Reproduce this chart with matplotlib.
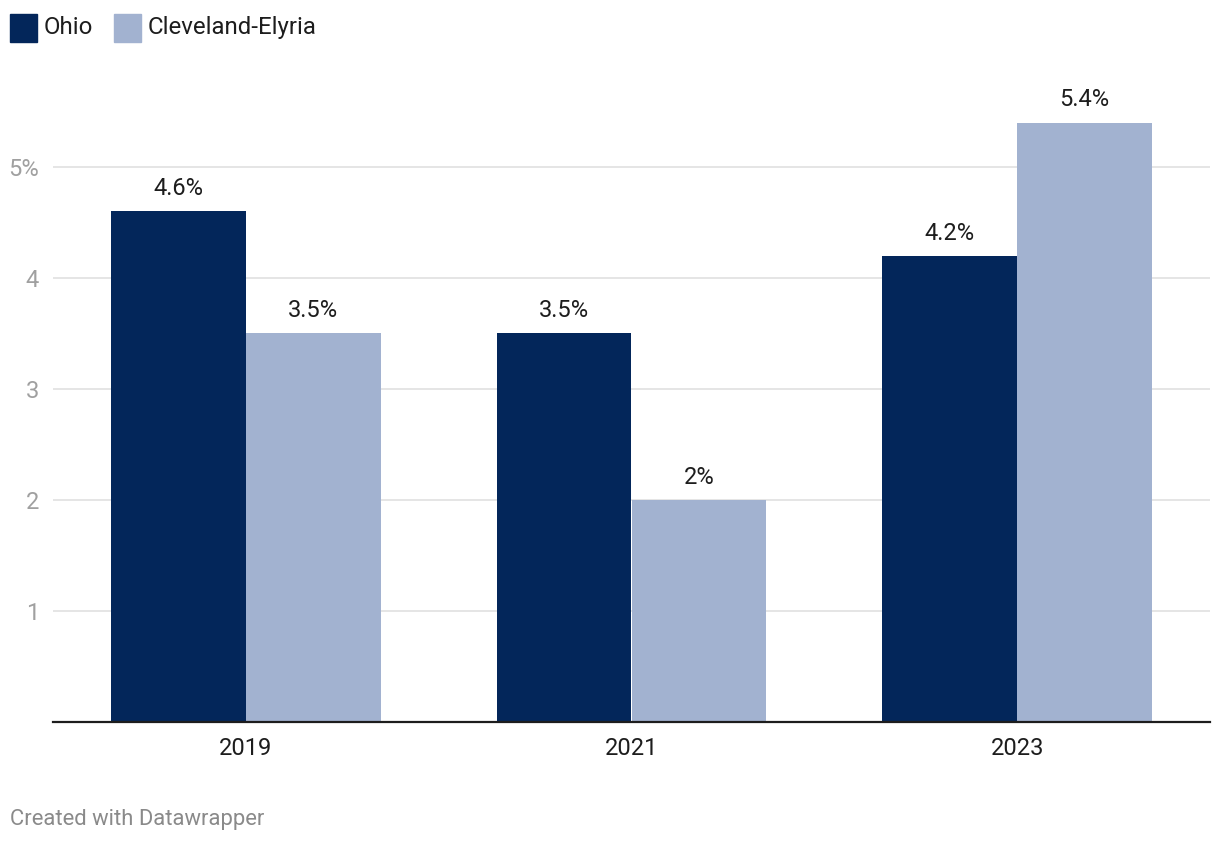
import matplotlib
matplotlib.use("Agg")
import matplotlib.pyplot as plt
from matplotlib.patches import Rectangle

plt.rcParams['font.family'] = ['Roboto', 'DejaVu Sans']

years = ["2019", "2021", "2023"]
series_names = ["Ohio", "Cleveland-Elyria"]
ohio = [4.6, 3.5, 4.2]
cleveland = [3.5, 2.0, 5.4]
ohio_labels = ["4.6%", "3.5%", "4.2%"]
cleveland_labels = ["3.5%", "2%", "5.4%"]
yticks = [1, 2, 3, 4, 5]
ytick_labels = ["1", "2", "3", "4", "5%"]

c_dark = "#03265a"
c_light = "#a2b2d0"

W, H = 1220, 844
fig = plt.figure(figsize=(W / 100, H / 100), dpi=100)
ax = fig.add_axes([53 / W, (H - 722) / H, (1210 - 53) / W, (722 - 100) / H])

x = list(range(len(years)))
bw = 0.35
b1 = ax.bar([i - bw / 2 for i in x], ohio, width=bw, color=c_dark, zorder=2,
            linewidth=0, antialiased=False)
b2 = ax.bar([i + bw / 2 for i in x], cleveland, width=bw, color=c_light, zorder=2,
            linewidth=0, antialiased=False)

for rects, labs in ((b1, ohio_labels), (b2, cleveland_labels)):
    for r, lab in zip(rects, labs):
        ax.annotate(lab, (r.get_x() + r.get_width() / 2, r.get_height()),
                    xytext=(0, 8), textcoords="offset points",
                    ha="center", va="bottom", fontsize=17, color="#1d1d1d")

ax.set_xlim(-0.5, 2.5)
ax.set_ylim(0, (722 - 100) / 111)
ax.set_yticks(yticks)
ax.set_yticklabels(ytick_labels)
ax.set_xticks(x)
ax.set_xticklabels(years)
ax.grid(axis="y", color="#e0e0e0", linewidth=1.2, zorder=0)
ax.tick_params(axis="y", length=0, pad=10, labelsize=17, labelcolor="#a0a0a0")
ax.tick_params(axis="x", length=0, pad=11, labelsize=17, labelcolor="#1d1d1d")
for lab in ax.get_yticklabels():
    lab.set_horizontalalignment("right")
for s in ["top", "right", "left"]:
    ax.spines[s].set_visible(False)
ax.spines["bottom"].set_color("#1d1d1d")
ax.spines["bottom"].set_linewidth(1.6)
ax.spines["bottom"].set_zorder(3)

# Legend
def fx(px):
    return px / W

def fy(py):
    return 1 - py / H

fig.patches.append(Rectangle((fx(10), fy(42)), 27 / W, 28 / H, transform=fig.transFigure,
                             color=c_dark, figure=fig))
fig.text(fx(44), fy(27.5), series_names[0], fontsize=17.3, color="#1d1d1d", va="center", ha="left")
fig.patches.append(Rectangle((fx(114), fy(42)), 27 / W, 28 / H, transform=fig.transFigure,
                             color=c_light, figure=fig))
fig.text(fx(148), fy(27.5), series_names[1], fontsize=17.3, color="#1d1d1d", va="center", ha="left")

fig.text(fx(10), fy(819.5), "Created with Datawrapper", fontsize=15.8, color="#8a8a8a",
         va="center", ha="left")

fig.savefig("out.png", dpi=100)
